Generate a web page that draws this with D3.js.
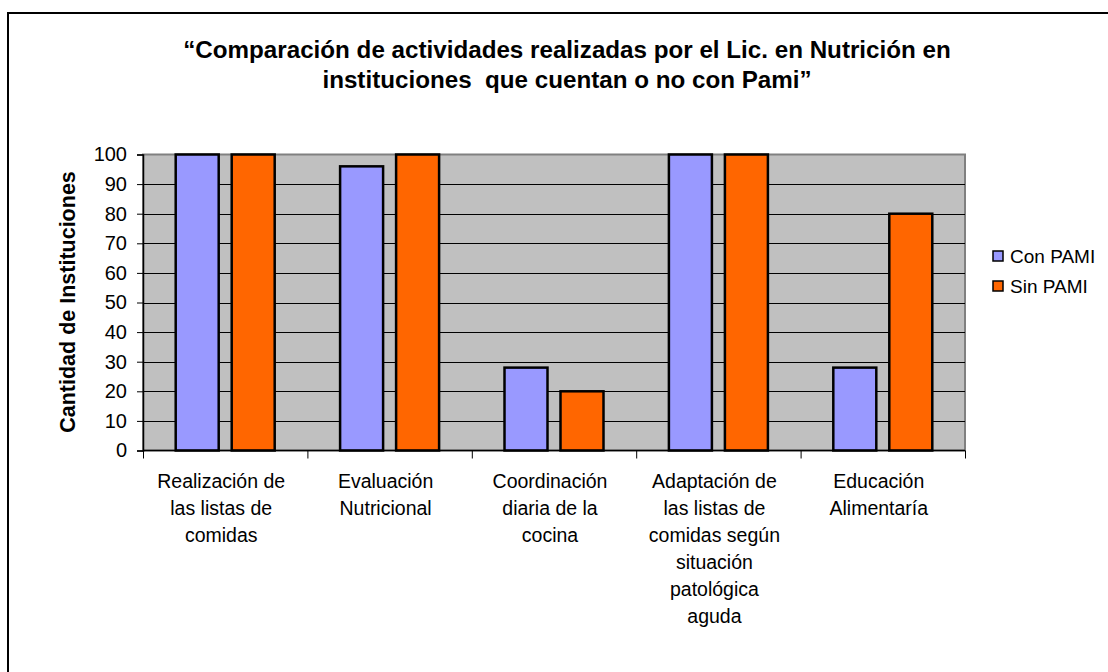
<!DOCTYPE html>
<html><head><meta charset="utf-8">
<script src="https://cdn.jsdelivr.net/npm/d3@7"></script>
<style>body{margin:0;background:#fff}svg{display:block}</style>
</head><body>
<svg id="c" width="1108" height="672"></svg>
<script>
const categories = [
  ["Realización de","las listas de","comidas"],
  ["Evaluación","Nutricional"],
  ["Coordinación","diaria de la","cocina"],
  ["Adaptación de","las listas de","comidas según","situación","patológica","aguda"],
  ["Educación","Alimentaría"]
];
const seriesNames = ["Con PAMI","Sin PAMI"];
const conPami = [100, 96, 28, 100, 28];
const sinPami = [100, 100, 20, 100, 80];
const colors = ["#9999FF","#FF6600"];
const yTicks = [0,10,20,30,40,50,60,70,80,90,100];
const titleLines = ["\u201cComparación de actividades realizadas por el Lic. en Nutrición en","instituciones  que cuentan o no con Pami\u201d"];
const yLabel = "Cantidad de Instituciones";

const svg = d3.select("#c");
const font = "Liberation Sans, Arial, sans-serif";
svg.append("rect").attr("x",8).attr("y",13).attr("width",1110).attr("height",670)
  .attr("fill","#fff").attr("stroke","#000").attr("stroke-width",2);

const L=143, R=965, T=154.5, B=450.5;
const idx = d3.range(categories.length);
const x0 = d3.scaleBand().domain(idx).range([L,R]).paddingInner(0).paddingOuter(0);
const y = d3.scaleLinear().domain([0,100]).range([B,T]);

svg.append("rect").attr("x",L).attr("y",T).attr("width",R-L).attr("height",B-T)
  .attr("fill","#C0C0C0").attr("stroke","#808080").attr("stroke-width",2);

svg.append("g").selectAll("line").data(yTicks.filter(d=>d>0 && d<100)).join("line")
  .attr("x1",L).attr("x2",R).attr("y1",d=>Math.round(y(d))+0.5).attr("y2",d=>Math.round(y(d))+0.5)
  .attr("stroke","#000").attr("stroke-width",1);

const barW = 43, gap = 13;
const series = [conPami, sinPami];
series.forEach((vals,s)=>{
  svg.append("g").selectAll("rect").data(vals).join("rect")
    .attr("x",(d,i)=>x0(i)+x0.bandwidth()/2 - (barW*2+gap)/2 + s*(barW+gap))
    .attr("y",d=>y(d)).attr("width",barW).attr("height",d=>B-y(d))
    .attr("fill",colors[s]).attr("stroke","#000").attr("stroke-width",2.5);
});

// axes
const yAxis = d3.axisLeft(y).tickValues(yTicks).tickSize(6).tickPadding(10);
const gy = svg.append("g").attr("transform",`translate(${L},0)`).call(yAxis);
gy.select(".domain").attr("stroke","#000").attr("stroke-width",1.5);
gy.selectAll(".tick line").attr("stroke","#000");
gy.selectAll("text").attr("font-family",font).attr("font-size",20).attr("fill","#000");

const xAxis = d3.axisBottom(d3.scaleLinear().domain([0,5]).range([L,R])).tickValues(d3.range(0,6)).tickSize(8).tickFormat("");
const gx = svg.append("g").attr("transform",`translate(0,${B})`).call(xAxis);
gx.select(".domain").attr("stroke","#000").attr("stroke-width",1.5).attr("d",`M${L},0H${R}`);
gx.selectAll(".tick line").attr("stroke","#000");

// category labels
categories.forEach((lines,i)=>{
  const t = svg.append("text").attr("text-anchor","middle").attr("font-family",font).attr("font-size",19.5).attr("fill","#000");
  lines.forEach((ln,j)=>{
    t.append("tspan").attr("x",x0(i)+x0.bandwidth()/2 - 4).attr("y",488+j*27).text(ln);
  });
});

// title
titleLines.forEach((ln,j)=>{
  svg.append("text").attr("x",567).attr("y",58+j*30).attr("text-anchor","middle")
    .style("white-space","pre")
    .attr("font-family",font).attr("font-size",24.2).attr("font-weight","bold").text(ln);
});

// y label
svg.append("text").attr("transform","translate(75,302) rotate(-90)").attr("text-anchor","middle")
  .attr("font-family",font).attr("font-size",21.5).attr("font-weight","bold").text(yLabel);

// legend
seriesNames.forEach((n,i)=>{
  const yy = 256 + i*30;
  svg.append("rect").attr("x",993).attr("y",yy-5).attr("width",10).attr("height",10)
    .attr("fill",colors[i]).attr("stroke","#000").attr("stroke-width",1.5);
  svg.append("text").attr("x",1010).attr("y",yy+7).attr("font-family",font).attr("font-size",19).text(n);
});
</script>
</body></html>
